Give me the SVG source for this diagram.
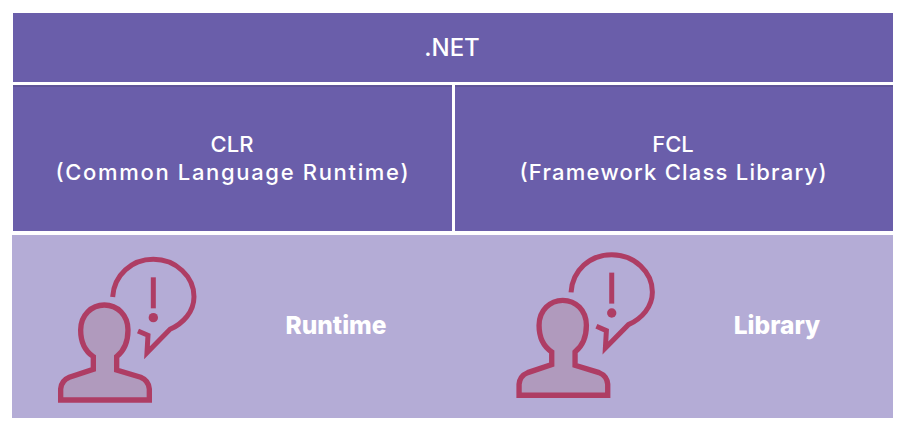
<svg xmlns="http://www.w3.org/2000/svg" width="900" height="423" viewBox="0 0 900 423">
<style>
.box{fill:#6a5eaa}
.edge{fill:#5f5497}
.t{font-family:Inter,"Liberation Sans",sans-serif;font-size:22px;font-weight:500;fill:#fff;text-anchor:middle}
.b{font-size:24.5px;font-weight:800}
.ln{fill:none;stroke:#ae3d64;stroke-width:15}
</style>
<defs>
<g id="speaker">
<path d="M62 480V447Q64 422 88 412L160 388V350C130 330 122 300 122 270C122 225 155 195 193 195C232 195 264 225 264 270C264 300 255 330 230 350V390L302 412Q326 422 328 447V480Z" fill="#b09abd" stroke="#ae3d64" stroke-width="16"/>
<path class="ln" d="M218 171C222 105 275 58 340 58C408 58 462 110 462 170C462 215 430 250 390 268L321 338L324 286L294 273"/>
<path class="ln" d="M340 112V205"/>
<circle cx="340" cy="233" r="14" fill="#ae3d64"/>
</g>
</defs>
<rect width="900" height="423" fill="#fff"/>
<rect x="12" y="235" width="881" height="183" fill="#b4acd6"/>
<g id="net"><rect class="box" x="13" y="13" width="880" height="69"/><text class="t" x="452" y="56" style="font-size:24px">.NET</text></g>
<g id="clr"><rect class="box" x="13" y="85" width="439" height="146"/><rect class="edge" x="13" y="85" width="439" height="2"/><text class="t" x="232" y="152">CLR</text><text class="t" x="232" y="180" textLength="353" lengthAdjust="spacing">(Common Language Runtime)</text></g>
<g id="fcl"><rect class="box" x="455" y="85" width="438" height="146"/><rect class="edge" x="455" y="85" width="438" height="2"/><text class="t" x="673" y="152">FCL</text><text class="t" x="673" y="180" textLength="307" lengthAdjust="spacing">(Framework Class Library)</text></g>
<g id="runtime"><use href="#speaker" transform="translate(40 240) scale(.3333)"/><text class="t b" x="336" y="334">Runtime</text></g>
<g id="library"><use href="#speaker" transform="translate(498.4 235.3) scale(.3333)"/><text class="t b" x="777" y="334">Library</text></g>
<g id="connectors"/>
</svg>
